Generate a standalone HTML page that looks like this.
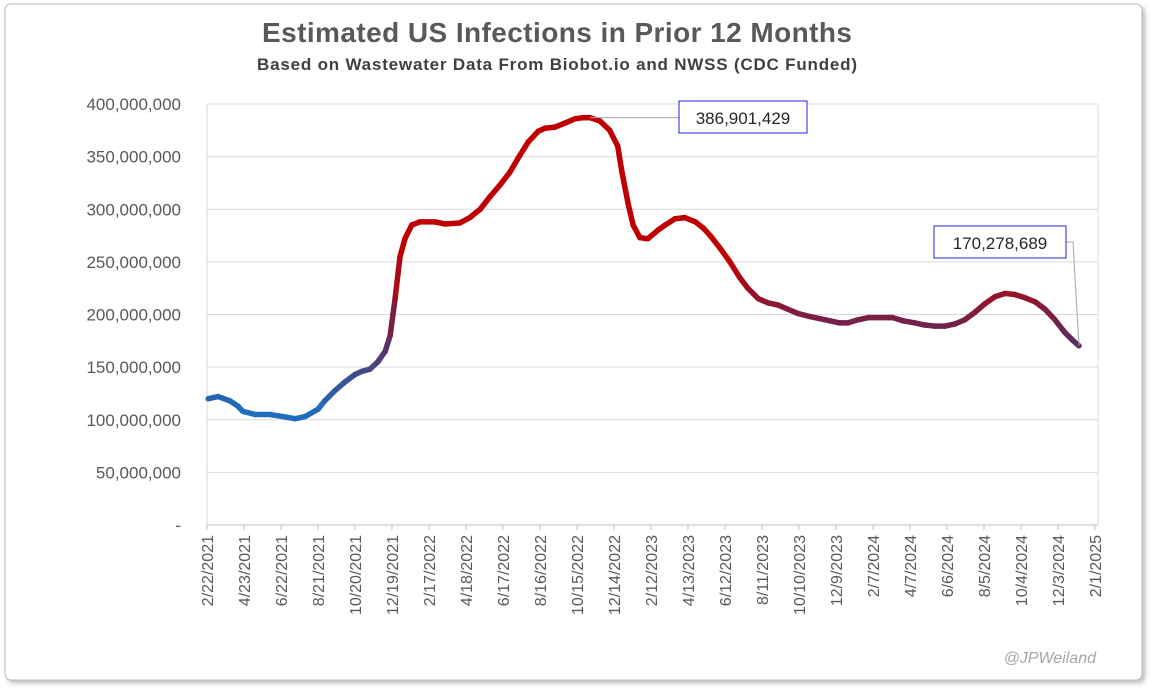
<!DOCTYPE html>
<html><head><meta charset="utf-8">
<style>
body{margin:0;background:#fff;width:1153px;height:690px;overflow:hidden;font-family:"Liberation Sans",sans-serif;}
</style></head>
<body>
<svg id="chart" width="1153" height="690" xmlns="http://www.w3.org/2000/svg">
<defs><filter id="sh" x="-5%" y="-5%" width="110%" height="110%"><feDropShadow dx="3" dy="3" stdDeviation="2" flood-color="#999" flood-opacity="0.6"/></filter></defs>
<rect x="5" y="4" width="1137" height="676" rx="6" fill="#fff" stroke="#bbb" filter="url(#sh)"/>
<text x="557" y="42" text-anchor="middle" font-size="28" font-weight="bold" fill="#595959" textLength="590">Estimated US Infections in Prior 12 Months</text>
<text x="557" y="70" text-anchor="middle" font-size="17" font-weight="bold" fill="#404040" textLength="600">Based on Wastewater Data From Biobot.io and NWSS (CDC Funded)</text>
<g id="grid"></g><g id="axes"></g><g id="series"></g><g id="notes"></g>
<text x="1096" y="663" text-anchor="end" font-size="16" font-style="italic" fill="#a6a6a6">@JPWeiland</text>
</svg>
<script>
const days=[2,18,37,50,58,78,102,123,143,159,180,191,208,224,240,251,264,277,289,297,305,313,321,332,345,370,386,410,426,443,459,475,491,504,521,537,548,564,581,597,608,621,637,653,666,673,683,691,702,715,731,743,759,775,792,805,816,832,848,864,877,894,910,926,942,958,978,994,1010,1026,1039,1056,1072,1091,1112,1129,1148,1164,1180,1197,1213,1229,1245,1261,1278,1294,1310,1326,1343,1359,1375,1391,1403,1414];
const values=[120,122,118,113,108,105,105,103,101,103,110,118,128,136,143,146,148,155,165,180,215,255,272,285,288,288,286,287,292,300,312,323,335,348,364,374,377,378,382,386,386.9,387,384,375,360,335,305,285,273,272,280,285,291,292,288,282,275,263,250,235,225,215,211,209,205,201,198,196,194,192,192,195,197,197,197,194,192,190,189,189,191,195,202,210,217,220,219,216,212,205,195,183,176,170.28];
const yTicks=[0,50,100,150,200,250,300,350,400];
const yTickLabels=["-","50,000,000","100,000,000","150,000,000","200,000,000","250,000,000","300,000,000","350,000,000","400,000,000"];
const xTickLabels=["2/22/2021","4/23/2021","6/22/2021","8/21/2021","10/20/2021","12/19/2021","2/17/2022","4/18/2022","6/17/2022","8/16/2022","10/15/2022","12/14/2022","2/12/2023","4/13/2023","6/12/2023","8/11/2023","10/10/2023","12/9/2023","2/7/2024","4/7/2024","6/6/2024","8/5/2024","10/4/2024","12/3/2024","2/1/2025"];
const peakLabel="386,901,429", lastLabel="170,278,689";
const NS="http://www.w3.org/2000/svg";
const X0=207,X1=1095,Y0=525,Y1=104,DMAX=1440,VMAX=400;
const xs=d=>X0+(X1-X0)*d/DMAX, ys=v=>Y0-(Y0-Y1)*v/VMAX;
function mk(t,a,p){const e=document.createElementNS(NS,t);for(const k in a)e.setAttribute(k,a[k]);p.appendChild(e);return e;}
const grid=document.getElementById('grid'),axes=document.getElementById('axes'),ser=document.getElementById('series'),notes=document.getElementById('notes');
yTicks.forEach((v,i)=>{
 const l=mk('line',{x1:X0,x2:1098,y1:ys(v),y2:ys(v),stroke:i==0?'#bfbfbf':'#d9d9d9'},grid);
 
 
 const t=mk('text',{x:181,y:ys(v)+6,'text-anchor':'end','font-size':17,fill:'#595959'},axes);
 t.textContent=yTickLabels[i];
 
 
});
[X0,1098].forEach(x=>{
 const l=mk('line',{x1:x,x2:x,y1:Y1,y2:Y0,stroke:'#d9d9d9'},grid);
 
 
});
xTickLabels.forEach((s,i)=>{
 const x=xs(i*60);
 const l=mk('line',{x1:x,x2:x,y1:Y0,y2:Y0+5,stroke:'#bfbfbf'},grid);
 
 
 const t=mk('text',{x:0,y:0,transform:`translate(${x+6},535) rotate(-90)`,'text-anchor':'end','font-size':16,fill:'#595959'},axes);
 t.textContent=s;
 
 
});
function col(v){let t=Math.max(0,Math.min(1,(v-110)/140));
 const a=[31,110,190],m=[100,40,90],b=[192,0,0];let c;
 if(t<0.5){const u=t*2;c=a.map((x,k)=>x+(m[k]-x)*u);}else{const u=(t-0.5)*2;c=m.map((x,k)=>x+(b[k]-x)*u);}
 return `rgb(${c.map(Math.round).join(',')})`;}
for(let i=0;i<days.length-1;i++){
 const l=mk('line',{x1:xs(days[i]),y1:ys(values[i]),x2:xs(days[i+1]),y2:ys(values[i+1]),stroke:col((values[i]+values[i+1])/2),'stroke-width':5.5,'stroke-linecap':'round'},ser);
 
 
}
let pi=0;values.forEach((v,i)=>{if(v>values[pi])pi=i;});
const px=xs(days[pi]),py=ys(values[pi]);
const l1=mk('polyline',{points:`${px},${py} 679,${py}`,fill:'none',stroke:'#a6a6a6'},notes);


const b1=mk('rect',{x:679,y:101,width:128,height:32,fill:'#fff',stroke:'#2222dd'},notes);


const t1=mk('text',{x:743,y:124,'text-anchor':'middle','font-size':17,fill:'#262626'},notes);
t1.textContent=peakLabel;


const n=days.length-1,lx=xs(days[n]),ly=ys(values[n]);
const l2=mk('polyline',{points:`1066,242 1073,242 ${lx},${ly}`,fill:'none',stroke:'#a6a6a6'},notes);


const b2=mk('rect',{x:934,y:226,width:132,height:32,fill:'#fff',stroke:'#2222dd'},notes);


const t2=mk('text',{x:1000,y:249,'text-anchor':'middle','font-size':17,fill:'#262626'},notes);
t2.textContent=lastLabel;


</script>
</body></html>
